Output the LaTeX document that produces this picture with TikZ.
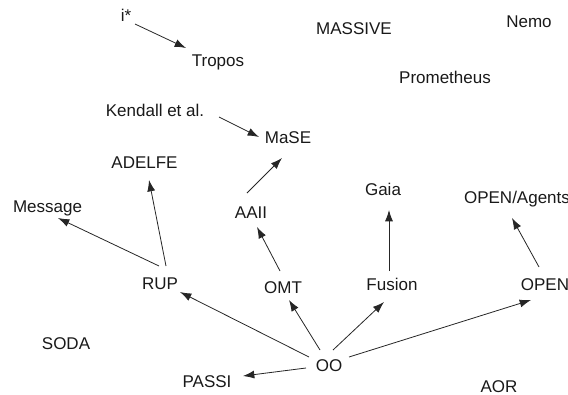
\documentclass[tikz,border=0pt]{standalone}
\usepackage{fontspec}
\setmainfont{Liberation Sans}
\usetikzlibrary{arrows.meta}
\begin{document}
\begin{tikzpicture}[x=0.75pt,y=-0.75pt,
  method/.style={font=\fontsize{12.75}{14}\selectfont, text=black!90,
    inner sep=0pt, text height=9.1pt, text depth=0pt, anchor=center},
  link/.style={draw=black!85, line width=0.6pt,
    -{Latex[length=8.5pt,width=6pt]}}]
\useasboundingbox (0,0) rectangle (568,394);

% methodologies
\node[method] (istar)   at (126,15)  {i*};
\node[method] (tropos)  at (218,60)  {Tropos};
\node[method] (massive) at (354,28)  {MASSIVE};
\node[method] (nemo)    at (529,21)  {Nemo};
\node[method] (prom)    at (445,77)  {Prometheus};
\node[method] (kendall) at (155,110) {Kendall et al.};
\node[method] (mase)    at (288,137) {MaSE};
\node[method] (adelfe)  at (144.5,162) {ADELFE};
\node[method] (message) at (47.5,206) {Message};
\node[method] (aaii)    at (251,212) {AAII};
\node[method] (gaia)    at (383,189) {Gaia};
\node[method] (openag)  at (517,197) {OPEN/Agents};
\node[method] (rup)     at (160,283) {RUP};
\node[method] (omt)     at (283,287) {OMT};
\node[method] (fusion)  at (392,284) {Fusion};
\node[method] (open)    at (545,284) {OPEN};
\node[method] (soda)    at (66,343)  {SODA};
\node[method] (oo)      at (329,365) {OO};
\node[method] (passi)   at (207,381) {PASSI};
\node[method] (aor)     at (499,386) {AOR};

% influences
\draw[link] ([shift={(9,9)}]istar.center)    -- ([shift={(-32,-12)}]tropos.center);
\draw[link] ([shift={(64,7)}]kendall.center) -- ([shift={(-29,0)}]mase.center);
\draw[link] ([shift={(-4,-19)}]aaii.center)  -- ([shift={(-6,21)}]mase.center);
\draw[link] ([shift={(6,-17)}]rup.center)    -- ([shift={(4.5,18)}]adelfe.center);
\draw[link] ([shift={(-1,-17)}]rup.center)   -- ([shift={(10.5,12)}]message.center);
\draw[link] ([shift={(-3,-16)}]omt.center)   -- ([shift={(6,15)}]aaii.center);
\draw[link] ([shift={(-20,-8)}]oo.center)    -- ([shift={(20,9)}]rup.center);
\draw[link] ([shift={(-9,-15)}]oo.center)    -- ([shift={(6,13)}]omt.center);
\draw[link] ([shift={(4,-15)}]oo.center)     -- ([shift={(-8,18)}]fusion.center);
\draw[link] ([shift={(-3,-13)}]fusion.center) -- ([shift={(6,21)}]gaia.center);
\draw[link] ([shift={(20,-8)}]oo.center)     -- ([shift={(-14,16)}]open.center);
\draw[link] ([shift={(-6,-17)}]open.center)  -- ([shift={(-5,21)}]openag.center);
\draw[link] ([shift={(-23,3)}]oo.center)     -- ([shift={(36,-5)}]passi.center);
\end{tikzpicture}
\end{document}
